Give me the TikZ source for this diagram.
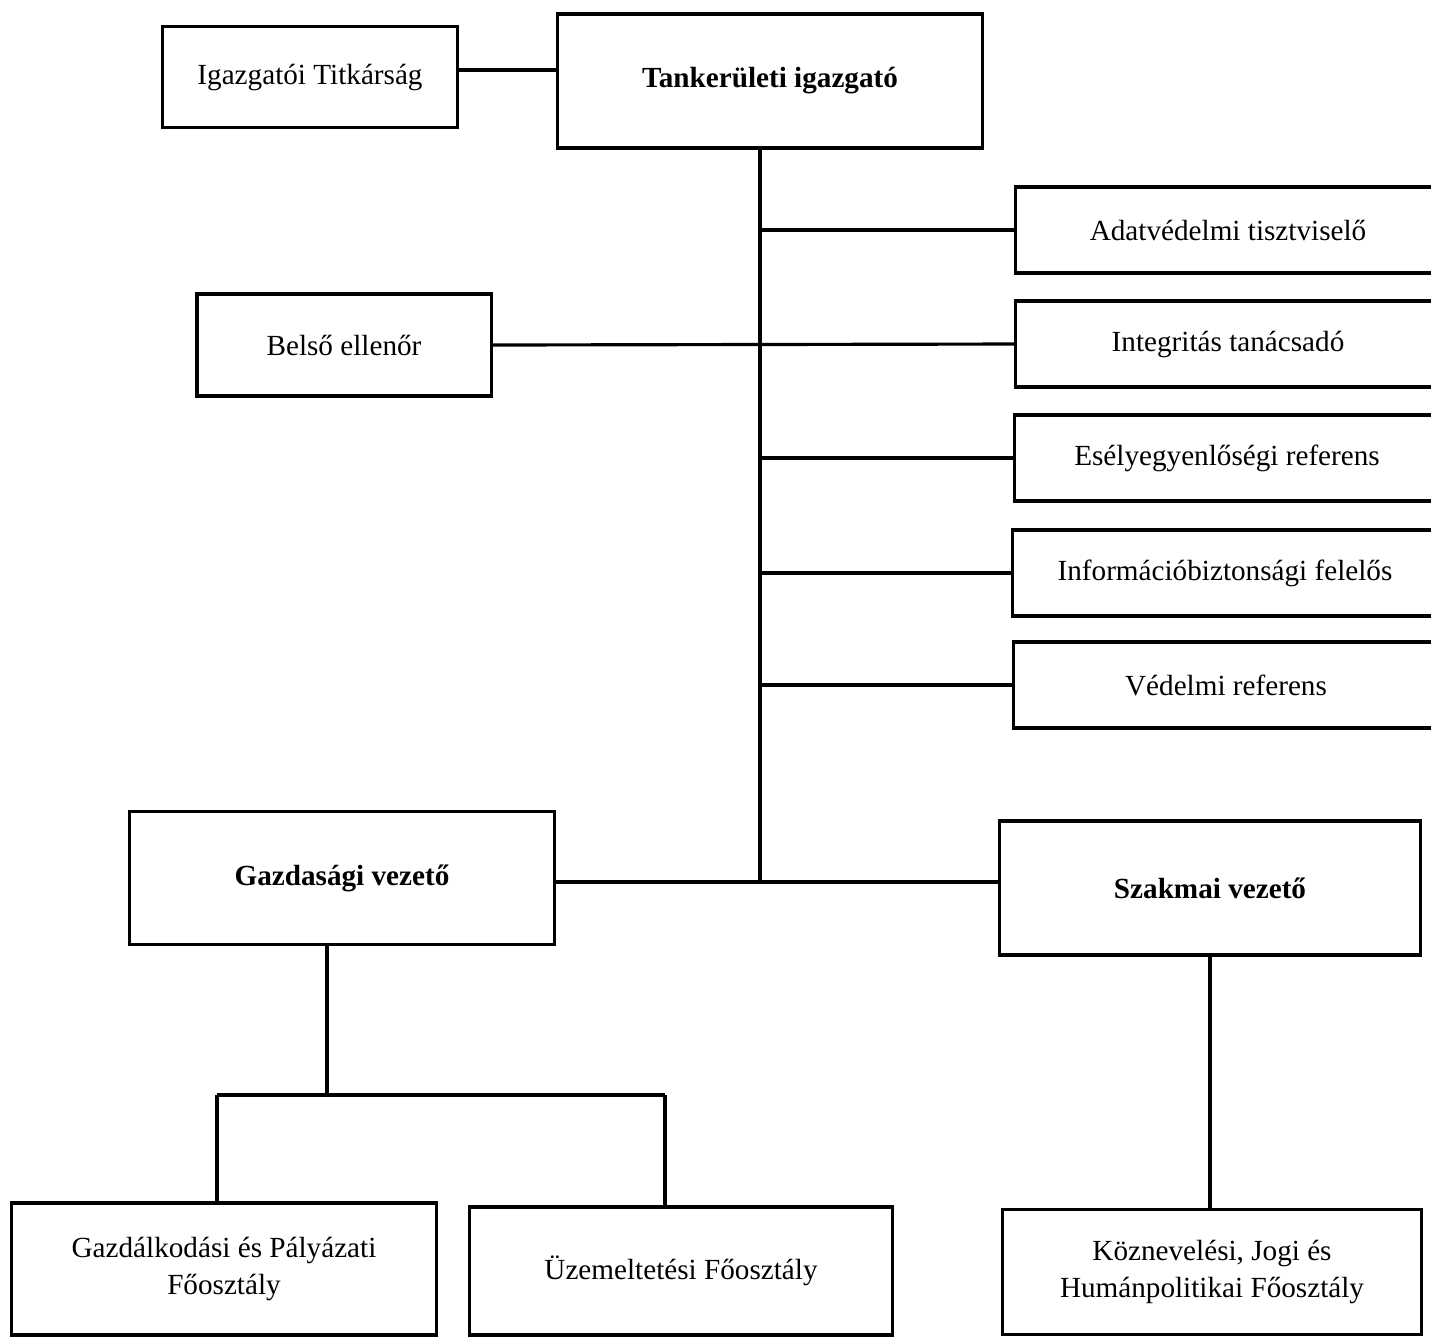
\documentclass[tikz,border=0pt]{standalone}
\usepackage{fontspec}
\setmainfont{Liberation Serif}
\usepackage{tikz}
\usetikzlibrary{positioning}

\tikzset{
  unit/.style={draw, line width=0.9pt, align=center, inner sep=0pt,
    font=\fontsize{8.3}{10.4}\selectfont},
  head/.style={unit, font=\fontsize{8.3}{10.4}\selectfont\bfseries},
  link/.style={line width=0.9pt}
}

\begin{document}
\begin{tikzpicture}[x=0.01cm, y=-0.01cm]
  \clip (0,0) rectangle (1431,1338);
  \def\sidew{4.24cm}
  \def\sideh{0.86cm}

  \node[head, minimum width=4.24cm, minimum height=1.34cm] (igazgato) at (770,81) {Tankerületi igazgató};
  \node[unit, minimum width=2.95cm, minimum height=1.01cm] (titkarsag) at (310,77) {Igazgatói Titkárság};

  \node[unit, minimum width=\sidew, minimum height=\sideh] (adatved) at (1228,230) {Adatvédelmi tisztviselő};
  \node[unit, minimum width=\sidew, minimum height=\sideh] (integ) at (1228,344) {Integritás tanácsadó};
  \node[unit, minimum width=\sidew, minimum height=\sideh] (esely) at (1227,458) {Esélyegyenlőségi referens};
  \node[unit, minimum width=\sidew, minimum height=\sideh] (infobizt) at (1225,573) {Információbiztonsági felelős};
  \node[unit, minimum width=\sidew, minimum height=\sideh] (vedelmi) at (1226,685) {Védelmi referens};

  \node[unit, minimum width=2.94cm, minimum height=1.02cm] (belso) at (344,345) {Belső ellenőr};

  \node[head, minimum width=4.24cm, minimum height=1.33cm] (gazdvez) at (342,878) {Gazdasági vezető};
  \node[head, minimum width=4.20cm, minimum height=1.34cm] (szakvez) at (1210,888) {Szakmai vezető};

  \node[unit, minimum width=4.25cm, minimum height=1.32cm] (gazdfo) at (224,1269) {Gazdálkodási és Pályázati\\Főosztály};
  \node[unit, minimum width=4.23cm, minimum height=1.28cm] (uzemfo) at (681,1271) {Üzemeltetési Főosztály};
  \node[unit, minimum width=4.19cm, minimum height=1.25cm] (koznfo) at (1212,1272) {Köznevelési, Jogi és\\Humánpolitikai Főosztály};

  \coordinate (trunk) at (760,882);
  \coordinate (gsplit) at (327,1095);
  \coordinate (gleft) at ([xshift=-0.07cm]gazdfo.north);
  \coordinate (gright) at ([xshift=-0.16cm]uzemfo.north);

  % igazgato and its staff
  \draw[link] (titkarsag.east |- 0,70) -- (igazgato.west |- 0,70);
  \draw[link] (igazgato.south -| trunk) -- (trunk);
  \foreach \n in {adatved, esely, infobizt, vedelmi}
    \draw[link] (trunk |- \n.west) -- (\n.west);
  \draw[link] (belso.east) -- (integ.west);

  % the two leaders
  \draw[link] (gazdvez.east |- trunk) -- (szakvez.west |- trunk);
  \draw[link] (gazdvez.south -| gsplit) -- (gsplit);
  \draw[link] (gsplit -| gleft) -- (gsplit -| gright);
  \draw[link] (gsplit -| gleft) -- (gleft);
  \draw[link] (gsplit -| gright) -- (gright);
  \draw[link] (szakvez.south) -- (szakvez.south |- koznfo.north);
\end{tikzpicture}
\end{document}
